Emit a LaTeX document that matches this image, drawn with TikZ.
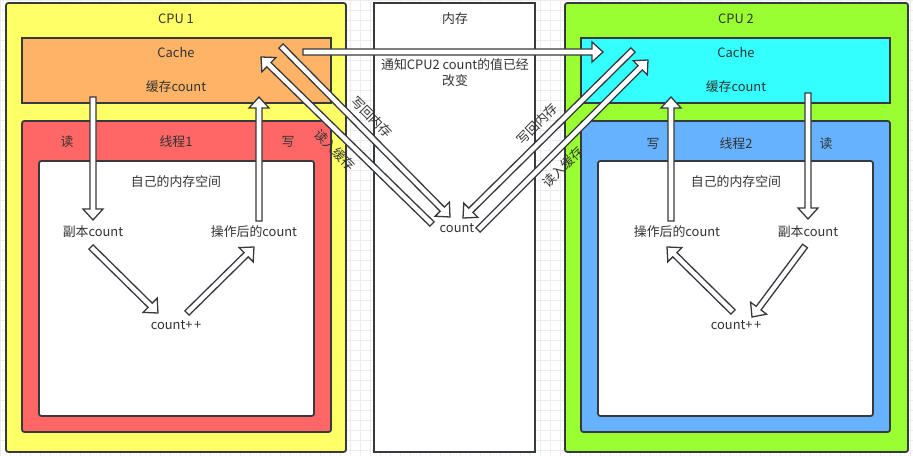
\documentclass[tikz,border=0pt]{standalone}
\usepackage{fontspec}
\setmainfont{Noto Sans CJK SC}
\usepackage{tikz}
\usetikzlibrary{calc}

\definecolor{cpuyellow}{HTML}{FFFF66}
\definecolor{cacheorange}{HTML}{FFB366}
\definecolor{threadred}{HTML}{FF6666}
\definecolor{cpugreen}{HTML}{99FF33}
\definecolor{cachecyan}{HTML}{33FFFF}
\definecolor{threadblue}{HTML}{66B2FF}
\definecolor{edgegray}{HTML}{36393D}
\definecolor{textgray}{HTML}{333333}
\definecolor{gridgray}{HTML}{EDEDED}

\tikzset{
  lbl/.style={font=\fontsize{11}{13.6}\selectfont, text=textgray, inner sep=1pt},
  box/.style={draw=edgegray, line width=1.5pt},
  blockarr/.style={draw=edgegray, fill=white, line width=1.1pt, line join=miter}
}

% hollow block arrow between two points
\newcommand{\blockarrow}[2]{%
  \path (#1) coordinate (ba-s) (#2) coordinate (ba-e);
  \path ($(ba-e)!0.33cm!(ba-s)$) coordinate (ba-b);
  \draw[blockarr] ($(ba-s)!0.09cm!90:(ba-e)$) -- ($(ba-b)!0.09cm!-90:(ba-s)$)
    -- ($(ba-b)!0.3cm!-90:(ba-s)$) -- (ba-e) -- ($(ba-b)!0.3cm!90:(ba-s)$)
    -- ($(ba-b)!0.09cm!90:(ba-s)$) -- ($(ba-s)!0.09cm!-90:(ba-e)$) -- cycle;}

\begin{document}
\begin{tikzpicture}[x=0.03cm, y=-0.03cm]
  \useasboundingbox (0,0) rectangle (913,456);
  \fill[white] (0,0) rectangle (913,456);
  \draw[gridgray, line width=0.5pt, step=0.3cm] (0,0) grid (913,456);

  % CPU 1
  \draw[box, fill=cpuyellow, rounded corners=2pt] (6,3) rectangle (346,452);
  \draw[box, fill=cacheorange] (22,38) rectangle (331,103);
  \draw[box, fill=threadred, rounded corners=2pt] (22,121) rectangle (331,432);
  \draw[box, fill=white, rounded corners=2pt] (39,161) rectangle (314,416);
  \node[lbl] (cpu1) at (176,19) {CPU 1};
  \node[lbl] (cache1) at (176,52) {Cache};
  \node[lbl] (cached1) at (176,87) {缓存count};
  \node[lbl] (read1) at (67,142) {读};
  \node[lbl] (thread1) at (176,142) {线程1};
  \node[lbl] (write1) at (288,142) {写};
  \node[lbl] (space1) at (176,182) {自己的内存空间};
  \node[lbl] (copy1) at (93,232) {副本count};
  \node[lbl] (done1) at (254,232) {操作后的count};
  \node[lbl] (inc1) at (176,325) {count+\kern1.2pt+};

  % memory
  \draw[box, fill=white] (374,3) rectangle (535,452);
  \node[lbl] (mem) at (455,19) {内存};
  \node[lbl, align=center] (notify) at (455,73) {通知CPU2 count的值已经\\改变};
  \node[lbl] (memcnt) at (457,228) {count};

  % CPU 2
  \draw[box, fill=cpugreen, rounded corners=2pt] (565,3) rectangle (908,452);
  \draw[box, fill=cachecyan] (581,38) rectangle (890,103);
  \draw[box, fill=threadblue, rounded corners=2pt] (581,121) rectangle (890,432);
  \draw[box, fill=white, rounded corners=2pt] (598,161) rectangle (873,416);
  \node[lbl] (cpu2) at (736,19) {CPU 2};
  \node[lbl] (cache2) at (736,52) {Cache};
  \node[lbl] (cached2) at (736,87) {缓存count};
  \node[lbl] (write2) at (653,144) {写};
  \node[lbl] (thread2) at (736,144) {线程2};
  \node[lbl] (read2) at (826,144) {读};
  \node[lbl] (space2) at (736,182) {自己的内存空间};
  \node[lbl] (done2) at (677,232) {操作后的count};
  \node[lbl] (copy2) at (808,232) {副本count};
  \node[lbl] (inc2) at (736,325) {count+\kern1.2pt+};

  % thread 1 arrows
  \blockarrow{$(copy1)+(0,-135)$}{$(copy1)+(0,-12)$}
  \blockarrow{$(done1)+(5,-11)$}{$(done1)+(5,-135)$}
  \blockarrow{$(copy1)+(-2,15)$}{$(inc1)+(-18,-12)$}
  \blockarrow{$(inc1)+(11,-12)$}{$(done1)+(0,15)$}

  % thread 2 arrows
  \blockarrow{$(done2)+(-6,-11)$}{$(done2)+(-6,-135)$}
  \blockarrow{$(copy2)+(0,-139)$}{$(copy2)+(0,-13)$}
  \blockarrow{$(copy2)+(-3,14)$}{$(inc2)+(16,-8)$}
  \blockarrow{$(inc2)+(-3,-13)$}{$(done2)+(-10,15)$}

  % between caches and memory
  \blockarrow{$(cache1)+(127,0)$}{$(cache2)+(-133,0)$}
  \blockarrow{$(cache1)+(105,-6)$}{$(memcnt)+(-7,-11)$}
  \blockarrow{$(memcnt)+(-25,-4)$}{$(cache1)+(85,5)$}
  \blockarrow{$(cache2)+(-103,-2)$}{$(memcnt)+(6,-10)$}
  \blockarrow{$(memcnt)+(21,2)$}{$(cache2)+(-88,8)$}

  % arrow labels
  \node[lbl, rotate=-45] (wb1) at (372,117) {写回内存};
  \node[lbl, rotate=-45] (rd1) at (335,150) {读入缓存};
  \node[lbl, rotate=45] (wb2) at (537,124) {写回内存};
  \node[lbl, rotate=45] (rd2) at (563,167) {读入缓存};
\end{tikzpicture}
\end{document}
